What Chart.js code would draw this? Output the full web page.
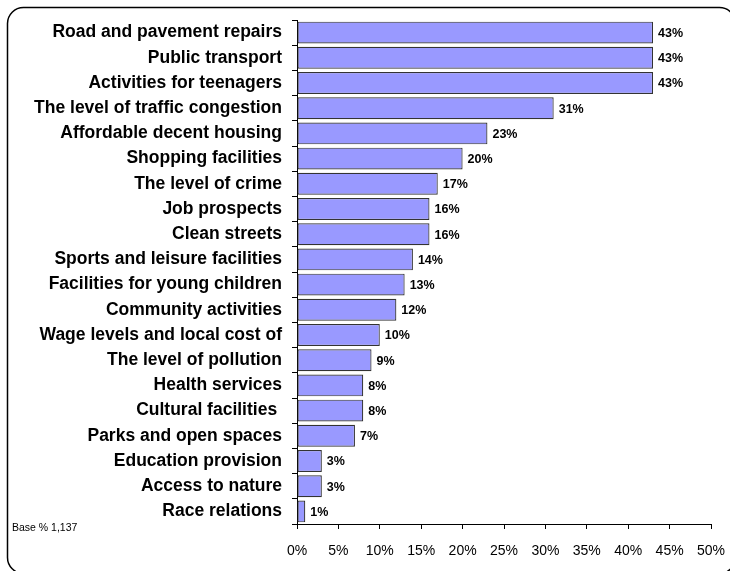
<!DOCTYPE html>
<html>
<head>
<meta charset="utf-8">
<script src="https://cdn.jsdelivr.net/npm/chart.js@4"></script>
<style>
    html, body { margin: 0; padding: 0; background: #fff; }
    #wrap { width: 730px; height: 571px; }
</style>
</head>
<body>
<div id="wrap"><canvas id="grafico" width="730" height="571"></canvas></div>
<script>
'use strict';

// Dados
const categorias = [
    'Road and pavement repairs',
    'Public transport',
    'Activities for teenagers',
    'The level of traffic congestion',
    'Affordable decent housing',
    'Shopping facilities',
    'The level of crime',
    'Job prospects',
    'Clean streets',
    'Sports and leisure facilities',
    'Facilities for young children',
    'Community activities',
    'Wage levels and local cost of',
    'The level of pollution',
    'Health services',
    'Cultural facilities ',
    'Parks and open spaces',
    'Education provision',
    'Access to nature',
    'Race relations',
];
const valores = [43, 43, 43, 31, 23, 20, 17, 16, 16, 14, 13, 12, 10, 9, 8, 8, 7, 3, 3, 1];
const ticksX = [0, 5, 10, 15, 20, 25, 30, 35, 40, 45, 50];
const notaBase = 'Base % 1,137';

// Moldura arredondada + nota da base
const moldura = {
    id: 'moldura',
    beforeDraw(chart) {
        const ctx = chart.ctx;
        ctx.save();
        ctx.fillStyle = '#fff';
        ctx.fillRect(0, 0, chart.width, chart.height);
        ctx.beginPath();
        ctx.roundRect(7.5, 7.5, 728, 566, 16);
        ctx.lineWidth = 1.5;
        ctx.strokeStyle = '#000';
        ctx.stroke();
        ctx.fillStyle = '#000';
        ctx.font = '10.5px "Liberation Sans", Arial, sans-serif';
        ctx.textBaseline = 'middle';
        ctx.fillText(notaBase, 12, 528);
        ctx.restore();
    },
};

// Rótulos de valor no fim das barras
const rotulos = {
    id: 'rotulos',
    afterDatasetsDraw(chart) {
        const ctx = chart.ctx;
        const meta = chart.getDatasetMeta(0);
        ctx.save();
        ctx.fillStyle = '#000';
        ctx.font = 'bold 12.5px "Liberation Sans", Arial, sans-serif';
        ctx.textBaseline = 'middle';
        meta.data.forEach((barra, i) => {
            ctx.fillText(valores[i] + '%', barra.x + 5, barra.y + 1);
        });
        ctx.restore();
    },
};

new Chart(document.getElementById('grafico').getContext('2d'), {
    type: 'bar',
    data: {
        labels: categorias,
        datasets: [
            {
                data: valores,
                backgroundColor: '#9999FF',
                borderColor: '#333333',
                borderWidth: 1.2,
                borderSkipped: false,
                barPercentage: 0.87,
                categoryPercentage: 1,
            },
        ],
    },
    options: {
        indexAxis: 'y',
        responsive: false,
        animation: false,
        layout: { padding: { top: 20, right: 19, left: 0, bottom: 0 } },
        plugins: {
            legend: { display: false },
            tooltip: { enabled: false },
        },
        scales: {
            x: {
                min: 0,
                max: 50,
                afterBuildTicks(scale) {
                    scale.ticks = ticksX.map((v) => ({ value: v }));
                },
                afterFit(scale) {
                    scale.height = 47;
                    scale.paddingLeft = 0;
                    scale.paddingRight = 0;
                },
                border: { display: true, color: '#000', width: 1 },
                grid: { drawOnChartArea: false, tickLength: 5, color: '#000' },
                ticks: {
                    padding: 14,
                    color: '#000',
                    font: { family: '"Liberation Sans", Arial, sans-serif', size: 14 },
                    callback: (v) => v + '%',
                },
            },
            y: {
                afterFit(scale) {
                    scale.width = 297;
                    scale.paddingTop = 0;
                    scale.paddingBottom = 0;
                },
                border: { display: true, color: '#000', width: 1 },
                grid: { offset: true, drawOnChartArea: false, tickLength: 5, color: '#000' },
                ticks: {
                    padding: 10,
                    color: '#000',
                    autoSkip: false,
                    font: { family: '"Liberation Sans", Arial, sans-serif', size: 17.5, weight: 'bold' },
                },
            },
        },
    },
    plugins: [moldura, rotulos],
});
</script>
</body>
</html>
